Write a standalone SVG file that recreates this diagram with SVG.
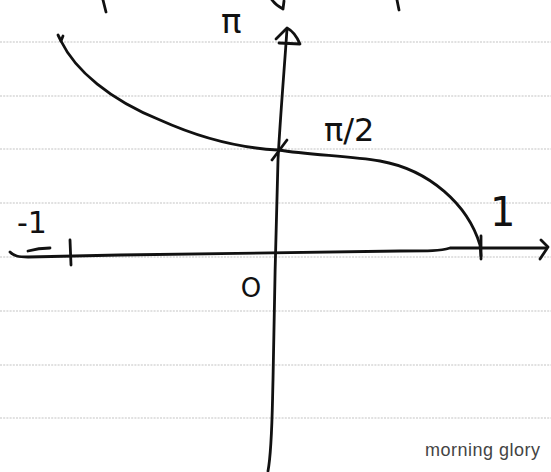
<svg xmlns="http://www.w3.org/2000/svg" width="551" height="472" viewBox="0 0 551 472">
<style>
.rule{stroke:#b4b4b4;stroke-width:0.8;stroke-dasharray:2 1.2;fill:none}
.ink{stroke:#111;stroke-width:2.8;fill:none;stroke-linecap:round;stroke-linejoin:round}
.lbl{font-family:"DejaVu Sans",sans-serif;fill:#111}
.wm{font-family:"Liberation Sans",Arial,sans-serif;fill:#444;font-size:18px;letter-spacing:0.5px}
</style>
<rect width="551" height="472" fill="#fff"/>
<g id="ruling">
<line class="rule" x1="0" y1="42" x2="551" y2="42"/>
<line class="rule" x1="0" y1="96" x2="551" y2="96"/>
<line class="rule" x1="0" y1="149" x2="551" y2="149"/>
<line class="rule" x1="0" y1="203" x2="551" y2="203"/>
<line class="rule" x1="0" y1="257" x2="551" y2="257"/>
<line class="rule" x1="0" y1="311" x2="551" y2="311"/>
<line class="rule" x1="0" y1="365" x2="551" y2="365"/>
<line class="rule" x1="0" y1="418" x2="551" y2="418"/>
</g>
<g id="title-fragments" class="ink">
<path d="M103,0 L106,12"/>
<path d="M272,0 C275,4 279,7 283,9 L284,1"/>
<path d="M397,0 L399,10"/>
</g>
<g id="connectors">
<g id="y-axis" class="ink">
<path d="M287,29 C285,60 280,120 278,160 C276,220 274,320 273,380 C272,420 272,450 268,471"/>
<path d="M276,39 L287,28 C293,31 297,37 300,44 L279,43"/>
</g>
<g id="x-axis" class="ink">
<path d="M10,252 C14,256 18,257 28,257 L120,255 L400,251 C430,251 440,251 450,248 L546,248"/>
<path d="M541,240 L548,247 L540,259"/>
<path d="M70,240 L71,265"/>
<path d="M481,236 L481,259"/>
<path d="M272,160 L287,140"/>
<path d="M28,251 C35,249 42,248 50,248"/>
</g>
</g>
<g id="curve" class="ink">
<path d="M58,35 L61,41 L63,36"/>
<path d="M61,41 C75,70 110,100 160,120 C200,138 240,148 278,150 C310,155 350,156 380,161 C430,170 468,205 480,245 L481,256"/>
</g>
<g id="labels">
<text class="lbl" x="221" y="33" font-size="34">π</text>
<text class="lbl" x="324" y="141" font-size="32">π/2</text>
<text class="lbl" x="17" y="233" font-size="30">-1</text>
<text class="lbl" x="490" y="226" font-size="40">1</text>
<text class="lbl" x="251" y="297" font-size="26" text-anchor="middle">O</text>
</g>
<text class="wm" x="425" y="456">morning glory</text>
</svg>
